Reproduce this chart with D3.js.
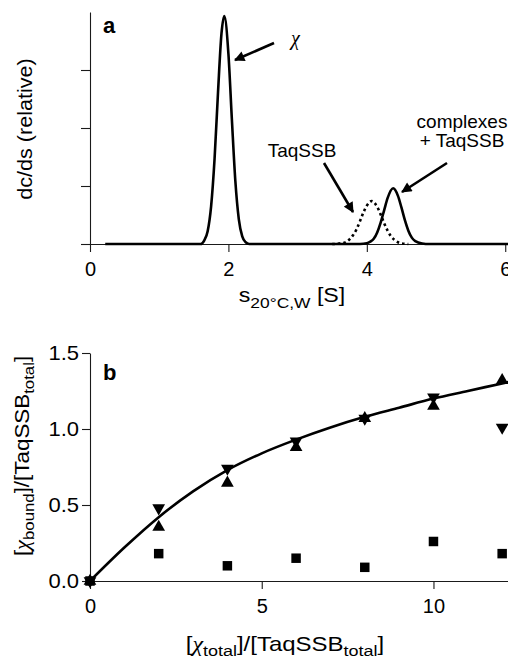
<!DOCTYPE html>
<html><head><meta charset="utf-8">
<script src="https://cdn.jsdelivr.net/npm/d3@7"></script>
<style>
html,body{margin:0;padding:0;background:#fff;}
svg{display:block;font-family:"Liberation Sans",Arial,sans-serif;}
</style></head>
<body>
<svg id="chart" width="508" height="660"></svg>
<script>
// ---------- Panel a data: sedimentation coefficient distributions ----------
const solidS = [0.22,1.60,1.65,1.70,1.75,1.80,1.85,1.90,1.94,2.00,2.05,2.10,2.15,2.20,2.25,2.30,
  3.90,4.00,4.05,4.10,4.15,4.20,4.25,4.30,4.38,4.45,4.50,4.55,4.60,4.65,4.70,4.80,4.90,6.10];
const solidProfile = [0,0,0.06,0.22,0.65,1.47,2.62,3.63,3.93,3.28,2.15,1.09,0.43,0.13,0.03,0,
  0,0.013,0.04,0.09,0.20,0.37,0.58,0.79,0.96,0.83,0.63,0.41,0.23,0.11,0.05,0.01,0,0];
const dottedS = [3.50,3.55,3.60,3.65,3.70,3.75,3.80,3.85,3.90,3.95,4.00,4.07,4.15,4.20,4.25,4.30,4.35,4.40,4.45,4.50,4.60];
const dottedProfile = [0,0,0.01,0.015,0.035,0.08,0.15,0.25,0.39,0.54,0.66,0.74,0.64,0.51,0.36,0.23,0.13,0.07,0.03,0.01,0];
const aXTicks = [0,2,4,6];
const aYTicks = [0,1,2,3];

// ---------- Panel b data: binding ----------
const ratioX = [0,2,4,6,8,10,12];
const downTriangles = [0,0.48,0.74,0.92,1.07,1.21,1.01];
const upTriangles = [0,0.355,0.645,0.88,1.07,1.15,1.32];
const squares = [0,0.18,0.10,0.15,0.09,0.26,0.18];
const fitX = [0,1,2,3,4,5,6,7,8,9,10,11,12,12.2];
const fitY = [0,0.22,0.42,0.59,0.73,0.84,0.93,1.01,1.08,1.14,1.20,1.25,1.30,1.31];
const bXTicks = [0,5,10];
const bYTicks = [0,0.5,1.0,1.5];

const svg = d3.select("#chart");
const AX = "#1a1a1a";

function styleAxis(g){
  g.selectAll("path.domain").attr("stroke",AX).attr("stroke-width",1.1);
  g.selectAll(".tick line").attr("stroke",AX).attr("stroke-width",1.1);
  g.selectAll(".tick text").attr("fill","#000").attr("font-size","20px")
    .attr("font-family","'Liberation Sans',Arial,sans-serif");
}

// ================= Panel a =================
const xa = d3.scaleLinear().domain([0,6.04]).range([90,508]);
const ya = d3.scaleLinear().domain([0,4]).range([244,12]);

svg.append("g").attr("transform","translate(0,244)")
  .call(d3.axisBottom(xa).tickValues(aXTicks).tickFormat(d3.format("d")).tickSize(8).tickSizeOuter(0).tickPadding(10))
  .call(styleAxis);
svg.append("g").attr("transform","translate(90,0)")
  .call(d3.axisLeft(ya).tickValues(aYTicks).tickFormat("").tickSize(9).tickSizeOuter(0))
  .call(styleAxis);

const lineA = d3.line().x(d=>xa(d[0])).y(d=>ya(d[1])).curve(d3.curveMonotoneX);
svg.append("path").datum(dottedS.map((s,i)=>[s,dottedProfile[i]]))
  .attr("d",lineA).attr("fill","none").attr("stroke","#000").attr("stroke-width",2.6)
  .attr("stroke-dasharray","2.6 3");
svg.append("path").datum(solidS.map((s,i)=>[s,solidProfile[i]]))
  .attr("d",lineA).attr("fill","none").attr("stroke","#000").attr("stroke-width",2.6)
  .attr("stroke-linejoin","round");

// arrows
svg.append("defs").append("marker").attr("id","ah").attr("viewBox","0 0 10 10")
  .attr("refX",9).attr("refY",5).attr("markerWidth",4.4).attr("markerHeight",4)
  .attr("markerUnits","strokeWidth").attr("orient","auto")
  .append("path").attr("d","M0,0 L10,5 L0,10 Z").attr("fill","#000");
const arrows = [[274,43,235,60],[324,163,353,212],[447,163,402,192]];
svg.selectAll("line.arr").data(arrows).enter().append("line").attr("class","arr")
  .attr("x1",d=>d[0]).attr("y1",d=>d[1]).attr("x2",d=>d[2]).attr("y2",d=>d[3])
  .attr("stroke","#000").attr("stroke-width",2.6).attr("marker-end","url(#ah)");

svg.append("text").attr("x",103).attr("y",33).attr("font-size","22px").attr("font-weight","bold").text("a");
svg.append("text").attr("x",291).attr("y",45).attr("font-size","20px")
  .attr("font-family","'Liberation Serif',serif").attr("font-style","italic").text("χ");
svg.append("text").attr("x",302).attr("y",157).attr("font-size","19px").attr("text-anchor","middle").text("TaqSSB");
svg.append("text").attr("x",462).attr("y",128).attr("font-size","19px").attr("text-anchor","middle").text("complexes");
svg.append("text").attr("x",462).attr("y",147).attr("font-size","19px").attr("text-anchor","middle").text("+ TaqSSB");

// axis titles a
svg.append("g").attr("transform","translate(32,129) rotate(-90) scale(1.08,1)")
  .append("text").attr("text-anchor","middle").attr("font-size","20px").text("dc/ds (relative)");
const xta = svg.append("g").attr("transform","translate(292,302) scale(1.16,1)")
  .append("text").attr("text-anchor","middle").attr("font-size","20px");
xta.append("tspan").text("s");
xta.append("tspan").attr("dy",6).attr("font-size","15px").text("20°C,W");
xta.append("tspan").attr("dy",-6).text(" [S]");

// ================= Panel b =================
const xb = d3.scaleLinear().domain([0,12.17]).range([90,508]);
const yb = d3.scaleLinear().domain([0,1.5]).range([581,353]);

svg.append("g").attr("transform","translate(0,581)")
  .call(d3.axisBottom(xb).tickValues(bXTicks).tickFormat(d3.format("d")).tickSize(8).tickSizeOuter(0).tickPadding(10))
  .call(styleAxis);
svg.append("g").attr("transform","translate(90,0)")
  .call(d3.axisLeft(yb).tickValues(bYTicks).tickFormat(d3.format(".1f")).tickSize(8).tickSizeOuter(0).tickPadding(3))
  .call(styleAxis);
// slightly widen y tick labels (reference glyphs are broader)
svg.selectAll("g").filter(function(){return this.getAttribute("transform")==="translate(90,0)";})
  .selectAll(".tick text").attr("transform","scale(1.1,1)").attr("x",-10);

svg.append("path").datum(fitX.map((x,i)=>[x,fitY[i]]))
  .attr("d",d3.line().x(d=>xb(d[0])).y(d=>yb(d[1])).curve(d3.curveMonotoneX))
  .attr("fill","none").attr("stroke","#000").attr("stroke-width",2.6);

const tri = d3.symbol().type(d3.symbolTriangle).size(70);
const sq = d3.symbol().type(d3.symbolSquare).size(90);
svg.selectAll("path.down").data(ratioX).enter().append("path").attr("class","down")
  .attr("d",tri).attr("fill","#000")
  .attr("transform",(d,i)=>`translate(${xb(d)},${yb(downTriangles[i])}) rotate(180)`);
svg.selectAll("path.up").data(ratioX).enter().append("path").attr("class","up")
  .attr("d",tri).attr("fill","#000")
  .attr("transform",(d,i)=>`translate(${xb(d)},${yb(upTriangles[i])})`);
svg.selectAll("path.sq").data(ratioX).enter().append("path").attr("class","sq")
  .attr("d",sq).attr("fill","#000")
  .attr("transform",(d,i)=>`translate(${xb(d)},${yb(squares[i])})`);

svg.append("text").attr("x",103).attr("y",380).attr("font-size","22px").attr("font-weight","bold").text("b");

// axis titles b
const ytb = svg.append("g").attr("transform","translate(29,456) rotate(-90) scale(1.12,1)")
  .append("text").attr("text-anchor","middle").attr("font-size","20px");
ytb.append("tspan").text("[");
ytb.append("tspan").attr("font-family","'Liberation Serif',serif").attr("font-style","italic").text("χ");
ytb.append("tspan").attr("dy",5).attr("font-size","15px").text("bound");
ytb.append("tspan").attr("dy",-5).text("]/[TaqSSB");
ytb.append("tspan").attr("dy",5).attr("font-size","15px").text("total");
ytb.append("tspan").attr("dy",-5).text("]");

const xtb = svg.append("g").attr("transform","translate(285,651) scale(1.2,1)")
  .append("text").attr("text-anchor","middle").attr("font-size","20px");
xtb.append("tspan").text("[");
xtb.append("tspan").attr("font-family","'Liberation Serif',serif").attr("font-style","italic").text("χ");
xtb.append("tspan").attr("dy",5).attr("font-size","15px").text("total");
xtb.append("tspan").attr("dy",-5).text("]/[TaqSSB");
xtb.append("tspan").attr("dy",5).attr("font-size","15px").text("total");
xtb.append("tspan").attr("dy",-5).text("]");
</script>
</body></html>
